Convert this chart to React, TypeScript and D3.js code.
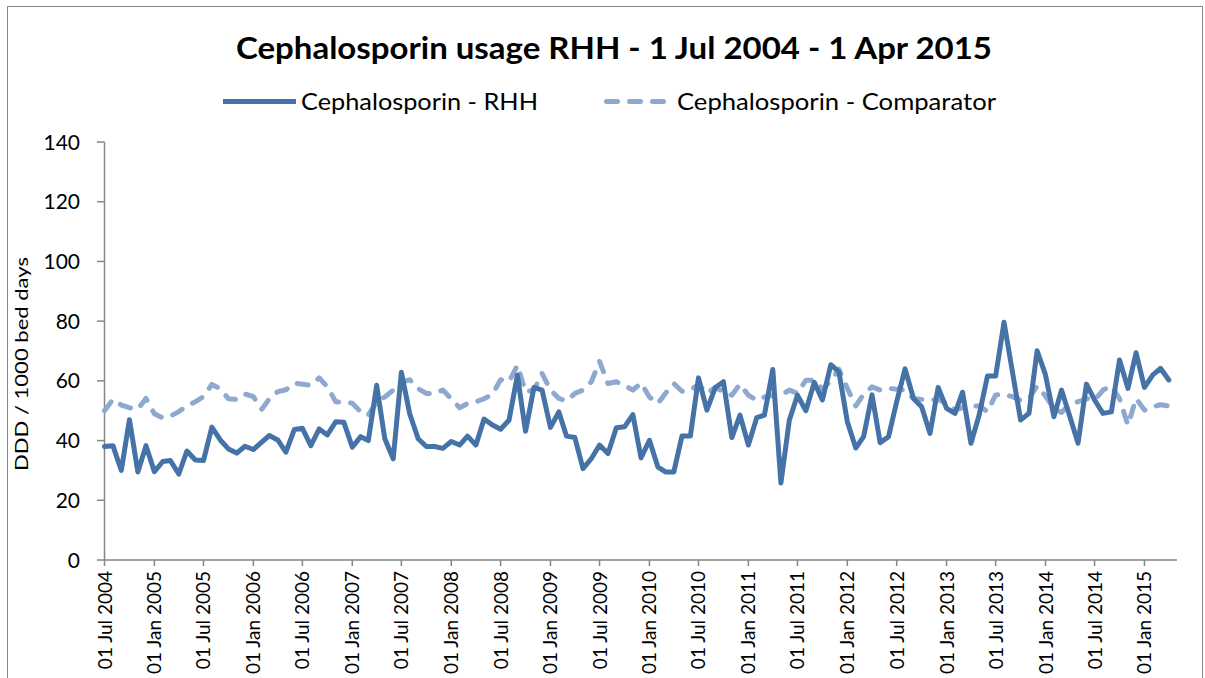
import React from "react";
import * as d3 from "d3";

const TITLE = "Cephalosporin usage RHH - 1 Jul 2004 - 1 Apr 2015";
const SERIES_NAMES = ["Cephalosporin - RHH", "Cephalosporin - Comparator"];
const Y_LABEL = "DDD / 1000 bed days";

const RHH = [
  38, 38.3, 30, 47, 29.5, 38.3, 29.6, 33, 33.3, 28.8, 36.5, 33.5,
  33.3, 44.5, 40.2, 37.2, 35.8, 38.1, 37, 39.5, 41.7, 40.2, 36.1, 43.7,
  44.1, 38.3, 43.9, 41.9, 46.3, 46.1, 37.8, 41.3, 40, 58.5, 40.6, 33.9,
  62.9, 48.9, 40.6, 38, 38, 37.4, 39.7, 38.5, 41.5, 38.5, 47.2, 45.2,
  43.8, 46.8, 61.9, 43.1, 57.8, 56.9, 44.4, 49.6, 41.5, 41, 30.6, 34,
  38.5, 35.7, 44.3, 44.6, 48.7, 34.2, 40.1, 31.2, 29.5, 29.5, 41.5, 41.5,
  61, 50.2, 57.8, 59.7, 41, 48.5, 38.5, 47.7, 48.5, 63.8, 25.8, 46.8,
  55.2, 50, 59.5, 53.6, 65.4, 63, 46.3, 37.5, 41.3, 55.3, 39.3, 41.3,
  53, 64, 54.1, 51.3, 42.4, 57.8, 50.8, 49.1, 56.2, 39.1, 48.5, 61.6,
  61.6, 79.6, 63, 46.9, 49.1, 70.1, 62, 48, 56.9, 48, 39.1, 58.9,
  53.6, 49.1, 49.6, 67, 57.5, 69.4, 57.8, 62, 64.2, 60.3,
];

const COMPARATOR = [
  50, 53.8, 51.9, 51, 50.5, 54.1, 49, 47.6, 48.2, 49.7, 51.6, 53,
  54.7, 58.8, 57.3, 54, 53.8, 55.6, 54.7, 50.5, 54, 56.4, 57, 59.2,
  58.9, 58.5, 61, 58, 53, 52.8, 52.5, 49.6, 48.5, 53, 54.6, 56.9,
  59.5, 60.4, 57.4, 55.8, 55.8, 56.9, 54, 51, 52.4, 53, 54, 55.5,
  60.4, 59.7, 65.2, 56.3, 57, 62.5, 57, 54.1, 53.3, 55.8, 56.9, 59.7,
  66.5, 59.1, 59.7, 58.5, 56.9, 59.3, 54.6, 52.4, 55.8, 59.1, 56.5, 56.9,
  58.8, 55.8, 57.8, 56.3, 55.2, 58.9, 55.2, 53.5, 54.6, 55.2, 55.2, 56.9,
  55.8, 60.2, 60.2, 57.2, 60, 63.9, 57.5, 51.6, 55.5, 58, 56.9, 57.5,
  57.2, 56.9, 54.1, 53.8, 53.5, 53.8, 52.5, 50.2, 51, 51.6, 51.6, 49.7,
  55.3, 55.5, 54.7, 53.4, 54.1, 58.3, 54.9, 50.8, 49.4, 52.3, 53, 54.1,
  53.6, 56.9, 58.3, 54, 45.2, 54.1, 50.2, 51.3, 52, 51.6,
];

const X_TICK_LABELS = [
  "01 Jul 2004", "01 Jan 2005", "01 Jul 2005", "01 Jan 2006", "01 Jul 2006",
  "01 Jan 2007", "01 Jul 2007", "01 Jan 2008", "01 Jul 2008", "01 Jan 2009",
  "01 Jul 2009", "01 Jan 2010", "01 Jul 2010", "01 Jan 2011", "01 Jul 2011",
  "01 Jan 2012", "01 Jul 2012", "01 Jan 2013", "01 Jul 2013", "01 Jan 2014",
  "01 Jul 2014", "01 Jan 2015",
];
const Y_TICKS = [0, 20, 40, 60, 80, 100, 120, 140];

const START = "01 Jul 2004";
const END_EXCL = "01 May 2015";

const FONT = "Lato, 'Open Sans', sans-serif";
const C_RHH = "#4572A7";
const C_CMP = "#8FA8D0";
const AXIS = "#868686";

export default function App() {
  const parse = d3.utcParse("%d %b %Y");
  const start = parse(START) as Date;
  const end = parse(END_EXCL) as Date;
  const months = d3.utcMonth.range(start, end);

  const x = d3.scaleUtc().domain([start, end]).range([104.5, 1177]);
  const y = d3.scaleLinear().domain([0, 140]).range([560, 142]);

  const line = d3
    .line<number>()
    .x((_, i) => x(months[i]))
    .y((d) => y(d));

  const tickDates = X_TICK_LABELS.map((t) => parse(t) as Date);

  return (
    <svg
      width={1205}
      height={678}
      style={{ position: "absolute", left: 0, top: 0, background: "#fff" }}
      fontFamily={FONT}
    >
      <rect x={0} y={0} width={1205} height={678} fill="#fff" />
      <rect x={7.5} y={6.5} width={1195} height={700} fill="none" stroke={AXIS} strokeWidth={1} />

      <text
        x={614}
        y={59}
        textAnchor="middle"
        fontSize={30}
        fontWeight="bold"
        fill="#000"
        textLength={756}
        lengthAdjust="spacingAndGlyphs"
      >
        {TITLE}
      </text>

      {/* legend */}
      <line x1={223} x2={296} y1={101.5} y2={101.5} stroke={C_RHH} strokeWidth={5} />
      <text x={301} y={110} fontSize={23} fill="#000" textLength={237} lengthAdjust="spacingAndGlyphs">
        {SERIES_NAMES[0]}
      </text>
      <line
        x1={606.5}
        x2={669}
        y1={101.5}
        y2={101.5}
        stroke={C_CMP}
        strokeWidth={5}
        strokeDasharray="11 12"
        strokeLinecap="round"
      />
      <text x={677} y={110} fontSize={23} fill="#000" textLength={319} lengthAdjust="spacingAndGlyphs">
        {SERIES_NAMES[1]}
      </text>

      {/* y axis */}
      <line x1={104.5} x2={104.5} y1={y(140)} y2={y(0)} stroke={AXIS} strokeWidth={1.5} />
      {Y_TICKS.map((t) => (
        <g key={t}>
          <line x1={97} x2={104.5} y1={y(t)} y2={y(t)} stroke={AXIS} strokeWidth={1.5} />
          <text x={80} y={y(t) + 7.5} textAnchor="end" fontSize={21} fill="#000">
            {t}
          </text>
        </g>
      ))}
      <text
        transform={`translate(28, 364) rotate(-90)`}
        textAnchor="middle"
        fontSize={17}
        fill="#000"
        textLength={214}
        lengthAdjust="spacingAndGlyphs"
      >
        {Y_LABEL}
      </text>

      {/* x axis */}
      <line x1={104.5} x2={1177} y1={y(0)} y2={y(0)} stroke={AXIS} strokeWidth={1.5} />
      {tickDates.map((d, i) => (
        <g key={X_TICK_LABELS[i]}>
          <line x1={x(d)} x2={x(d)} y1={y(0)} y2={y(0) + 6} stroke={AXIS} strokeWidth={1.5} />
          <text
            transform={`translate(${x(d) + 7}, 571) rotate(-90)`}
            textAnchor="end"
            fontSize={19}
            fill="#000"
          >
            {X_TICK_LABELS[i]}
          </text>
        </g>
      ))}

      {/* series */}
      <path
        d={line(COMPARATOR) || ""}
        fill="none"
        stroke={C_CMP}
        strokeWidth={5}
        strokeDasharray="11 12"
        strokeLinecap="round"
        strokeLinejoin="round"
      />
      <path
        d={line(RHH) || ""}
        fill="none"
        stroke={C_RHH}
        strokeWidth={5}
        strokeLinecap="round"
        strokeLinejoin="round"
      />
    </svg>
  );
}
